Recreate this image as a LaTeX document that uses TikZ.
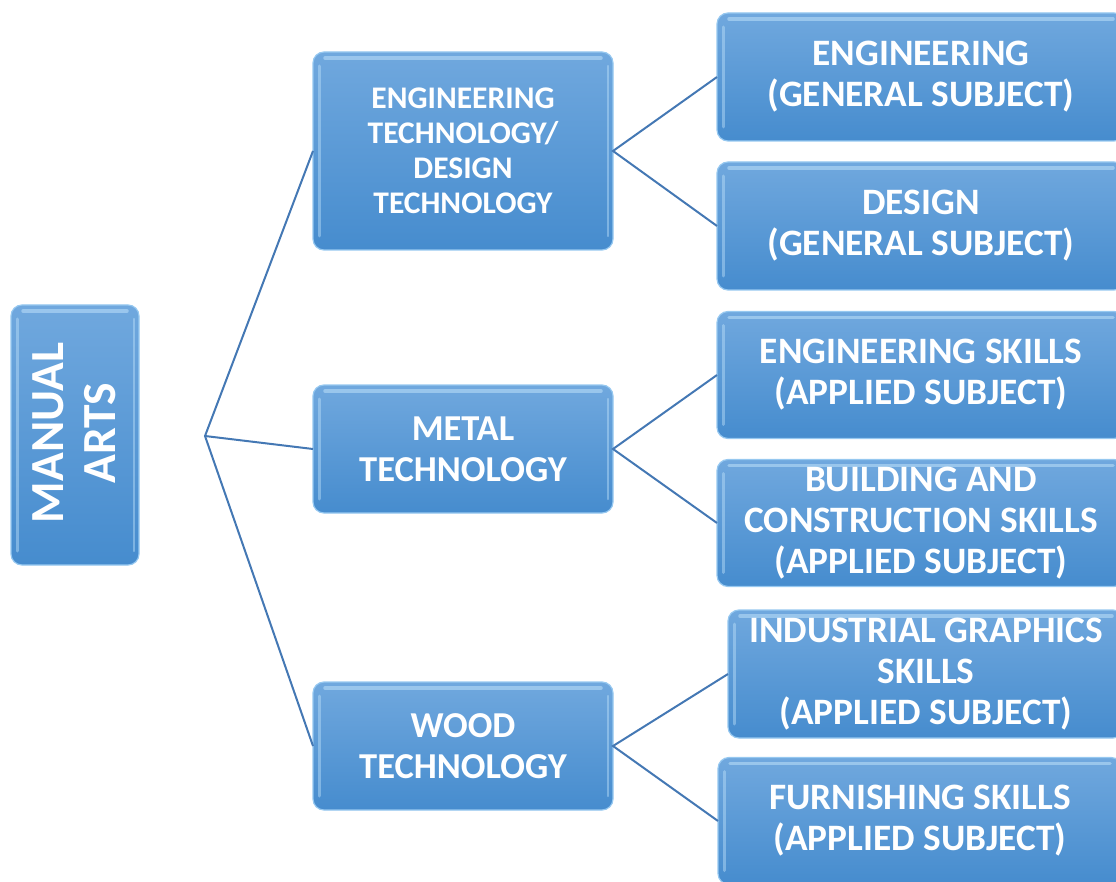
\documentclass[tikz,border=0pt]{standalone}
\usepackage{fontspec}
\setmainfont{Carlito}
\definecolor{boxtop}{RGB}{112,168,222}
\definecolor{boxbot}{RGB}{70,140,206}
\definecolor{boxedge}{RGB}{150,200,240}
\definecolor{shine}{RGB}{190,225,250}
\definecolor{linkc}{RGB}{68,120,180}
\tikzset{
  box/.style={rounded corners=11pt, top color=boxtop, bottom color=boxbot,
    draw=boxedge, line width=1.2pt, inner sep=0pt, outer sep=0pt,
    text=white, font=\bfseries, align=center,
    path picture={
      \draw[shine, line width=3.5pt, opacity=.55, line cap=round]
        ([xshift=12pt,yshift=-6pt]path picture bounding box.north west) --
        ([xshift=-12pt,yshift=-6pt]path picture bounding box.north east);
      \draw[shine, line width=3pt, opacity=.45, line cap=round]
        ([xshift=6pt,yshift=-14pt]path picture bounding box.north west) --
        ([xshift=6pt,yshift=14pt]path picture bounding box.south west);
      \draw[shine, line width=2.5pt, opacity=.45, line cap=round]
        ([xshift=-5pt,yshift=-14pt]path picture bounding box.north east) --
        ([xshift=-5pt,yshift=14pt]path picture bounding box.south east);
    }},
  link/.style={draw=linkc, line width=2pt},
  fa/.style={font=\fontsize{31.5}{35}\selectfont\bfseries},
  fb/.style={font=\fontsize{36.5}{41}\selectfont\bfseries},
  fc/.style={font=\fontsize{37.3}{41}\selectfont\bfseries},
  fd/.style={font=\fontsize{47.5}{52}\selectfont\bfseries}
}
\begin{document}
\begin{tikzpicture}[x=1pt,y=-1pt]
\useasboundingbox (0,0) rectangle (1116,882);
\begin{scope}
\clip (0,0) rectangle (1116,882);
% root
\node[box, minimum width=128pt, minimum height=260pt] (root) at (75,435) {};
\node[fd, text=white, rotate=90, align=center] (roottxt) at (74,433) {MANUAL\\ARTS};
% middle column
\node[box, fa, minimum width=300pt, minimum height=198pt] (et) at (463,151)
  {ENGINEERING\\TECHNOLOGY/\\DESIGN\\TECHNOLOGY};
\node[box, fb, minimum width=300pt, minimum height=128pt] (mt) at (463,449)
  {METAL\\TECHNOLOGY};
\node[box, fb, minimum width=300pt, minimum height=128pt] (wt) at (463,746)
  {WOOD\\TECHNOLOGY};
% right column
\node[box, fc, minimum width=408pt, minimum height=128pt] (r1) at (921,77)
  {ENGINEERING\\(GENERAL SUBJECT)};
\node[box, fc, minimum width=408pt, minimum height=128pt] (r2) at (921,226)
  {DESIGN\\(GENERAL SUBJECT)};
\node[box, fc, minimum width=408pt, minimum height=127pt] (r3) at (921,375)
  {ENGINEERING SKILLS\\(APPLIED SUBJECT)};
\node[box, fc, minimum width=408pt, minimum height=127pt] (r4) at (921,523)
  {BUILDING AND\\CONSTRUCTION SKILLS\\(APPLIED SUBJECT)};
\node[box, fc, minimum width=396pt, minimum height=128pt] (r5) at (926,674)
  {INDUSTRIAL GRAPHICS\\SKILLS\\(APPLIED SUBJECT)};
\node[box, fc, minimum width=404pt, minimum height=127pt] (r6) at (920,821)
  {FURNISHING SKILLS\\(APPLIED SUBJECT)};
% connectors
\coordinate (j) at (205,436);
\draw[link] (et.west) -- (j) -- (wt.west);
\draw[link] (j) -- (mt.west);
\draw[link] (r1.west) -- (et.east) -- (r2.west);
\draw[link] (r3.west) -- (mt.east) -- (r4.west);
\draw[link] (r5.west) -- (wt.east) -- (r6.west);
\end{scope}
\end{tikzpicture}
\end{document}
